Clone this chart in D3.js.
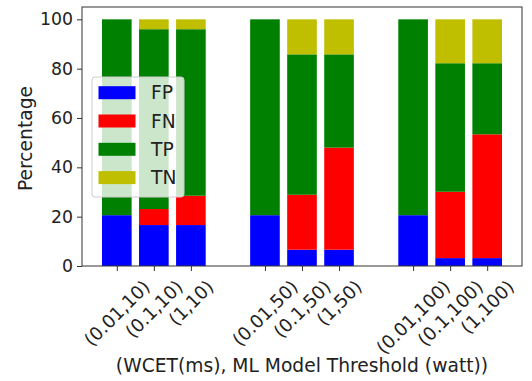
<!DOCTYPE html>
<html>
<head>
<meta charset="utf-8">
<script src="https://cdn.jsdelivr.net/npm/d3@7"></script>
<style>
  body { margin: 0; background: #fff; }
  svg { display: block; font-family: "DejaVu Sans", sans-serif; }
</style>
</head>
<body>
<svg id="chart" width="532" height="381"></svg>
<script>
// Categories: (WCET, threshold) pairs, grouped in threes
const categories = ['(0.01,10)', '(0.1,10)', '(1,10)',
                    '(0.01,50)', '(0.1,50)', '(1,50)',
                    '(0.01,100)', '(0.1,100)', '(1,100)'];
const positions = [0, 1, 2, 4, 5, 6, 8, 9, 10];

// Stacked percentages (bottom to top: FP, FN, TP, TN)
const fp = [20.6, 16.6, 16.6, 20.6, 6.6, 6.6, 20.6, 3.2, 3.2];
const fn = [0, 6.5, 11.9, 0, 22.3, 41.4, 0, 26.9, 50.2];
const tp = [79.4, 72.9, 67.5, 79.4, 56.9, 37.8, 79.4, 52.1, 28.8];
const tn = [0, 4, 4, 0, 14.2, 14.2, 0, 17.8, 17.8];

const seriesKeys = ['FP', 'FN', 'TP', 'TN'];
const seriesColors = ['#0000ff', '#ff0000', '#008000', '#bfbf00'];
const yTicks = [0, 20, 40, 60, 80, 100];

const rows = categories.map((c, i) => ({
    cat: c, pos: positions[i], FP: fp[i], FN: fn[i], TP: tp[i], TN: tn[i]
}));

const svg = d3.select('#chart');
const plotL = 82, plotR = 522, plotT = 7, plotB = 266;

const x = d3.scaleLinear().domain([-0.94, 10.94]).range([plotL, plotR]);
const y = d3.scaleLinear().domain([0, 105]).range([plotB, plotT]);
const barW = x(0.8) - x(0);

// Stacked bars
const stacked = d3.stack().keys(seriesKeys)(rows);
svg.append('g').selectAll('g')
    .data(stacked)
    .enter().append('g')
    .attr('fill', (d, i) => seriesColors[i])
    .selectAll('rect')
    .data(d => d)
    .enter().append('rect')
    .attr('x', d => x(d.data.pos) - barW / 2)
    .attr('width', barW)
    .attr('y', d => y(d[1]))
    .attr('height', d => Math.max(0, y(d[0]) - y(d[1])));

// Y axis
const yAxis = svg.append('g')
    .attr('transform', `translate(${plotL},0)`)
    .call(d3.axisLeft(y).tickValues(yTicks).tickSize(5).tickPadding(4).tickFormat(d3.format('d')));
yAxis.select('.domain').remove();
yAxis.selectAll('line').attr('stroke', '#333');
yAxis.selectAll('text').attr('font-size', 17.3).attr('fill', '#222')
    .attr('font-family', '"DejaVu Sans", sans-serif');

// X ticks
const xAxis = svg.append('g')
    .attr('transform', `translate(0,${plotB})`)
    .call(d3.axisBottom(x).tickValues(positions).tickSize(5).tickFormat(''));
xAxis.select('.domain').remove();
xAxis.selectAll('line').attr('stroke', '#333');

// Rotated x tick labels, centred under each tick (matplotlib style)
const xLabels = svg.append('g');
rows.forEach(r => {
    const t = xLabels.append('text')
        .attr('font-size', 18.2)
        .attr('fill', '#222')
        .attr('text-anchor', 'middle')
        .attr('dominant-baseline', 'central')
        .text(r.cat);
    const w = t.node().getComputedTextLength();
    const h = 18.2 * 1.16;
    const bh = (w + h) * Math.SQRT1_2;
    const cy = plotB + 10 + bh / 2;
    t.attr('transform', `translate(${x(r.pos)},${cy}) rotate(-45)`);
});

// Frame
svg.append('rect')
    .attr('x', plotL).attr('y', plotT)
    .attr('width', plotR - plotL).attr('height', plotB - plotT)
    .attr('fill', 'none').attr('stroke', '#333').attr('stroke-width', 1);

// Axis titles
svg.append('text')
    .attr('x', (plotL + plotR) / 2).attr('y', 372)
    .attr('text-anchor', 'middle')
    .attr('font-size', 18.7).attr('fill', '#222')
    .text('(WCET(ms), ML Model Threshold (watt))');

svg.append('text')
    .attr('transform', `translate(32,${(plotT + plotB) / 2 + 2}) rotate(-90)`)
    .attr('text-anchor', 'middle')
    .attr('font-size', 18.7).attr('fill', '#222')
    .text('Percentage');

// Legend
const legend = svg.append('g');
legend.append('rect')
    .attr('x', 92).attr('y', 77).attr('width', 92).attr('height', 120)
    .attr('rx', 3)
    .attr('fill', '#fff').attr('fill-opacity', 0.8)
    .attr('stroke', '#ccc');
seriesKeys.forEach((k, i) => {
    const cy = 92.7 + i * 28.3;
    legend.append('rect')
        .attr('x', 98.5).attr('y', cy - 6.5).attr('width', 37).attr('height', 13)
        .attr('fill', seriesColors[i]);
    legend.append('text')
        .attr('x', 151).attr('y', cy)
        .attr('dominant-baseline', 'central')
        .attr('font-size', 18.7).attr('fill', '#222')
        .text(k);
});
</script>
</body>
</html>
